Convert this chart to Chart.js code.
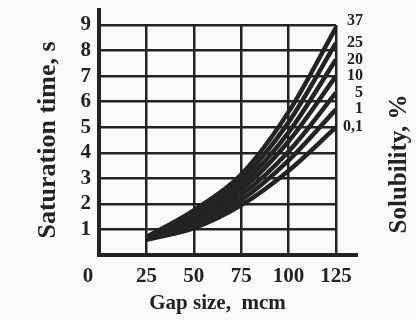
<!DOCTYPE html>
<html>
<head>
<meta charset="utf-8">
<script src="https://cdn.jsdelivr.net/npm/chart.js@4/dist/chart.umd.min.js"></script>
<style>
  html, body { margin: 0; padding: 0; background: #fcf9fc; }
  #wrap { width: 416px; height: 320px; }
</style>
</head>
<body>
<div id="wrap"><canvas id="satChart" width="416" height="320"></canvas></div>
<script>
// gap sizes (mcm) where each curve is read
const gapSizes = [25, 50, 75, 100, 125];

// saturation time (s) for each solubility level, top curve first
const sol37 = [0.70, 1.75, 3.15, 5.60, 8.90];
const sol25 = [0.70, 1.65, 2.95, 5.20, 8.30];
const sol20 = [0.70, 1.55, 2.75, 4.80, 7.65];
const sol10 = [0.65, 1.45, 2.55, 4.45, 7.00];
const sol5 = [0.65, 1.35, 2.35, 4.05, 6.35];
const sol1 = [0.60, 1.20, 2.15, 3.70, 5.70];
const sol01 = [0.60, 1.05, 1.95, 3.30, 5.00];

// solubility labels, same order as the series
const solLabels = ["37", "25", "20", "10", "5", "1", "0,1"];
const solSeries = [sol37, sol25, sol20, sol10, sol5, sol1, sol01];

const ink = "#232323";
const serif = "'Liberation Serif', 'DejaVu Serif', serif";

function toPoints(values) {
  return values.map((v, i) => ({ x: gapSizes[i], y: v }));
}

// thick axis lines that run past the grid, plus the right-hand labels
const decorations = {
  id: "decorations",
  afterDatasetsDraw(chart) {
    const { ctx, chartArea, scales } = chart;
    ctx.save();
    ctx.strokeStyle = ink;
    ctx.lineWidth = 4;
    ctx.lineCap = "butt";
    ctx.beginPath();
    ctx.moveTo(chartArea.left, chartArea.top - 17);
    ctx.lineTo(chartArea.left, chartArea.bottom + 2);
    ctx.moveTo(chartArea.left - 2, chartArea.bottom);
    ctx.lineTo(chartArea.right + 22, chartArea.bottom);
    ctx.stroke();

    // solubility label at the end of every curve
    ctx.fillStyle = ink;
    ctx.font = "bold 16px " + serif;
    ctx.textAlign = "right";
    ctx.textBaseline = "middle";
    let prevY = -100;
    solSeries.forEach((s, i) => {
      let y = scales.y.getPixelForValue(s[s.length - 1]);
      if (i === 0) y -= 7;
      if (y - prevY < 16) y = prevY + 16;
      ctx.fillText(solLabels[i], chartArea.right + 27, y);
      prevY = y;
    });

    // origin label
    ctx.font = "bold 21px " + serif;
    ctx.textAlign = "center";
    ctx.textBaseline = "top";
    ctx.fillText("0", scales.x.getPixelForValue(0) - 11, chartArea.bottom + 11);

    // right-hand axis title
    ctx.font = "bold 25px " + serif;
    ctx.translate(chartArea.right + 64, 164);
    ctx.rotate(-Math.PI / 2);
    ctx.textBaseline = "middle";
    ctx.fillText("Solubility, %", 0, 0);
    ctx.restore();
  }
};

new Chart(document.getElementById("satChart"), {
  type: "line",
  data: {
    datasets: solSeries.map((s, i) => ({
      label: solLabels[i],
      data: toPoints(s),
      borderColor: ink,
      borderWidth: 4.5,
      pointRadius: 0,
      cubicInterpolationMode: "monotone",
      fill: false
    }))
  },
  options: {
    responsive: false,
    animation: false,
    layout: { padding: { left: 0, right: 80, top: 25, bottom: 0 } },
    plugins: { legend: { display: false }, tooltip: { enabled: false } },
    scales: {
      x: {
        type: "linear",
        min: 0,
        max: 125,
        afterFit(scale) { scale.height = 65; },
        border: { display: false },
        grid: { color: ink, lineWidth: 2.5, drawTicks: false },
        ticks: {
          stepSize: 25,
          autoSkip: false,
          padding: 9,
          color: ink,
          font: { family: serif, size: 21, weight: "bold" },
          callback: v => (v === 0 ? "" : v)
        },
        title: {
          display: true,
          text: "Gap size,  mcm",
          color: ink,
          padding: { top: 0 },
          font: { family: serif, size: 21, weight: "bold" }
        }
      },
      y: {
        min: 0,
        max: 9,
        afterFit(scale) { scale.width = 99; },
        border: { display: false },
        grid: { color: ink, lineWidth: 2.5, drawTicks: false },
        ticks: {
          stepSize: 1,
          autoSkip: false,
          padding: 8,
          color: ink,
          font: { family: serif, size: 21, weight: "bold" },
          callback: v => (v === 0 ? "" : v)
        },
        title: {
          display: true,
          text: "Saturation time, s",
          color: ink,
          padding: { top: 33 },
          font: { family: serif, size: 26, weight: "bold" }
        }
      }
    }
  },
  plugins: [decorations]
});
</script>
</body>
</html>
